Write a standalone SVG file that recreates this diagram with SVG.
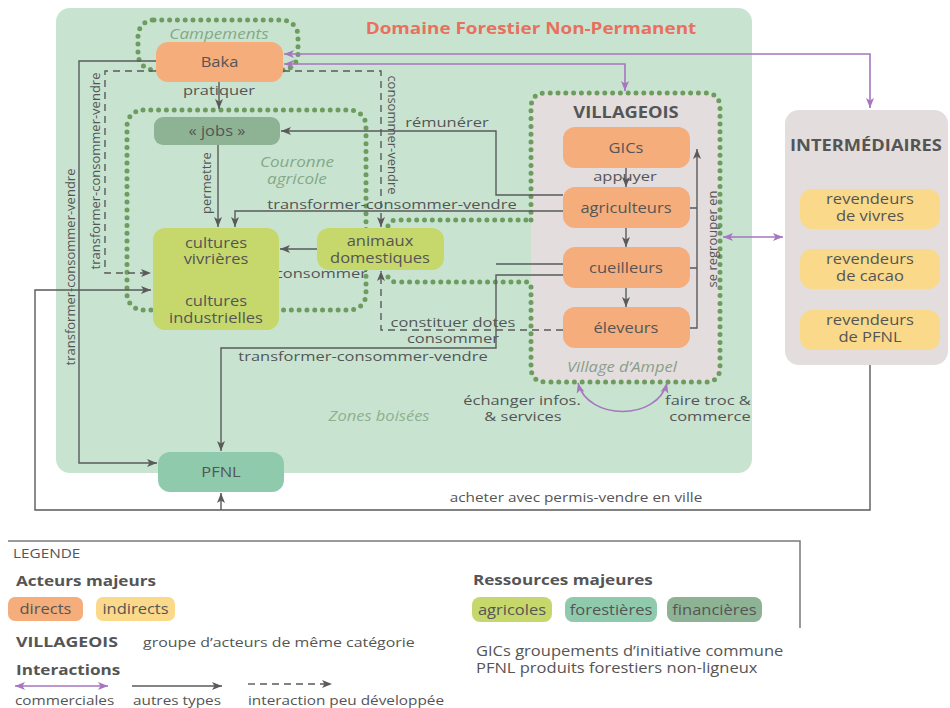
<svg xmlns="http://www.w3.org/2000/svg" width="950" height="708" viewBox="0 0 950 708">
<style>
.dot{fill:none;stroke:#6d9c5e;stroke-width:5;stroke-linecap:round;stroke-dasharray:0 7.8}
.ln{fill:none;stroke:#5a5a5a;stroke-width:1.4}
.ar{marker-end:url(#ah)}
.da{stroke-dasharray:7 5}
.pu{fill:none;stroke:#a676bf;stroke-width:1.6;marker-start:url(#ap);marker-end:url(#ap)}
.or{fill:#f5ad7c}.ye{fill:#fad98a}.ag{fill:#c6d86c}.fo{fill:#8fcaad}.fi{fill:#8db394}.gr{fill:#e3dddd}
text{font-family:"Open Sans","Liberation Sans",sans-serif;fill:#555555;font-size:14px}
.m{text-anchor:middle}
.s{transform-box:fill-box;transform-origin:center;transform:scaleX(1.18)}
.sl{transform-box:fill-box;transform-origin:left center;transform:scaleX(1.18)}
.q{font-size:13.5px;transform-box:fill-box;transform-origin:center;transform:scaleX(1.22)}
.b{font-weight:bold}
.it{font-style:italic;fill:#86a886}
.r{font-size:13px;text-anchor:middle;dominant-baseline:central}
</style>
<defs>
<marker id="ah" viewBox="0 0 10 10" refX="10" refY="5" markerWidth="10" markerHeight="10" markerUnits="userSpaceOnUse" orient="auto"><path d="M0,1 L10,5 L0,9 L2.5,5z" fill="#5a5a5a"/></marker>
<marker id="ap" viewBox="0 0 10 10" refX="10" refY="5" markerWidth="10" markerHeight="10" markerUnits="userSpaceOnUse" orient="auto-start-reverse"><path d="M0,1 L10,5 L0,9 L2.5,5z" fill="#a676bf"/></marker>
</defs>
<rect x="0" y="0" width="950" height="708" fill="#ffffff"/>
<g id="zones">
<rect x="56" y="8" width="696" height="465" rx="14" fill="#c8e4d1"/>
<text class="m b s" x="531" y="34" style="font-size:16px;fill:#e8705e">Domaine Forestier Non-Permanent</text>
<text class="m it s" x="379" y="421" style="fill:#8fb08f">Zones boisées</text>
</g>
<g id="village">
<rect x="531" y="93" width="189" height="289" rx="15" class="gr"/>
<path class="dot" d="M531,220 V108 Q531,93 546,93 H705 Q720,93 720,108 V367 Q720,382 705,382 H546 Q531,382 531,367 V282"/>
<path class="dot" d="M388,226 Q390,220 397,220 H531"/>
<path class="dot" d="M388,277 Q390,282 397,282 H531"/>
<text class="m b s" x="626" y="118" style="font-size:15.5px">VILLAGEOIS</text>
<text class="m it s" x="622" y="372" style="fill:#8a9d8a">Village d’Ampel</text>
</g>
<g id="couronne">
<rect x="127" y="110" width="239" height="200" rx="16" class="dot"/>
<text class="m it s" x="297" y="167" style="font-size:14.5px">Couronne</text>
<text class="m it s" x="297" y="184" style="font-size:14.5px">agricole</text>
</g>
<g id="campements">
<rect x="138" y="20" width="160" height="50" rx="16" class="dot"/>
<text class="m it s" x="219" y="39" style="font-size:14.5px">Campements</text>
</g>
<g id="intermediaires">
<rect x="785" y="110" width="163" height="255" rx="14" class="gr"/>
<text class="m b s" x="866" y="151" style="font-size:15.5px">INTERMÉDIAIRES</text>
</g>
<g id="connectors">
<path class="ln ar" d="M156,61 H79 V463 H157"/>
<path class="ln ar da" d="M156,71 H105 V273 H151"/>
<path class="ln ar da" d="M283,71 H381 V227"/>
<path class="ln ar" d="M219,82 V109"/>
<path class="ln ar" d="M218,145 V227"/>
<path class="ln ar" d="M563,211 H235 V227"/>
<path class="ln ar" d="M563,195 H496 V131 H281"/>
<path class="ln" d="M563,264 H496"/>
<path class="ln ar" d="M563,275 H496 V348 H221 V451"/>
<path class="ln ar da" d="M563,330 H381 V271"/>
<path class="ln ar" d="M317,249 H280"/>
<path class="ln ar" d="M626,168 V187"/>
<path class="ln ar" d="M626,228 V247"/>
<path class="ln ar" d="M626,288 V307"/>
<path class="ln" d="M690,208 H697 M690,268 H697"/>
<path class="ln ar" d="M690,328 H697 V149"/>
<path class="ln ar" d="M870,365 V510 H35 V290 H151"/>
<path class="ln ar" d="M221,510 V493"/>
<path class="pu" d="M284,54 H870 V108"/>
<path class="pu" d="M284,64 H625 V91"/>
<path class="pu" d="M723,237 H783"/>
<path class="pu" d="M578,383 C588,421 657,421 667,383"/>
<text class="r" transform="translate(70,267) rotate(-90)">transformer-consommer-vendre</text>
<text class="r" transform="translate(95,171) rotate(-90)">transformer-consommer-vendre</text>
<text class="r" transform="translate(206,183) rotate(-90)">permettre</text>
<text class="r" transform="translate(393,135) rotate(90)">consommer-vendre</text>
<text class="r" transform="translate(712,239) rotate(-90)">se regrouper en</text>
<text class="m q" x="219" y="95">pratiquer</text>
<text class="m q" x="447" y="127">rémunérer</text>
<text class="m q" x="392" y="209">transformer-consommer-vendre</text>
<text class="m q" x="625" y="181">appuyer</text>
<text class="m q" x="321" y="278">consommer</text>
<text class="m q" x="453" y="327">constituer dotes</text>
<text class="m q" x="453" y="343">consommer</text>
<text class="m q" x="363" y="361">transformer-consommer-vendre</text>
<text class="m q" x="522" y="405">échanger infos.</text>
<text class="m q" x="523" y="421">&amp; services</text>
<text class="m q" x="708" y="405">faire troc &amp;</text>
<text class="m q" x="710" y="421">commerce</text>
<text class="m s" x="576" y="502" style="font-size:13px">acheter avec permis-vendre en ville</text>
</g>
<g id="baka"><rect x="156" y="42" width="127" height="40" rx="12" class="or"/><text class="m s" x="219.5" y="67">Baka</text></g>
<g id="jobs"><rect x="154" y="117" width="126" height="28" rx="9" class="fi"/><text class="m s" x="217" y="136">« jobs »</text></g>
<g id="cultures"><rect x="153" y="228" width="126" height="102" rx="12" class="ag"/>
<text class="m s" x="216" y="248">cultures</text><text class="m s" x="216" y="264">vivrières</text>
<text class="m s" x="216" y="306">cultures</text><text class="m s" x="216" y="323">industrielles</text></g>
<g id="animaux"><rect x="317" y="228" width="127" height="42" rx="12" class="ag"/>
<text class="m s" x="380" y="246">animaux</text><text class="m s" x="380" y="263">domestiques</text></g>
<g id="pfnl"><rect x="158" y="452" width="126" height="40" rx="12" class="fo"/><text class="m s" x="221" y="477">PFNL</text></g>
<g id="gics"><rect x="563" y="127" width="127" height="41" rx="12" class="or"/><text class="m s" x="626" y="153">GICs</text></g>
<g id="agriculteurs"><rect x="563" y="187" width="127" height="41" rx="12" class="or"/><text class="m s" x="626" y="213">agriculteurs</text></g>
<g id="cueilleurs"><rect x="563" y="247" width="127" height="41" rx="12" class="or"/><text class="m s" x="626" y="273">cueilleurs</text></g>
<g id="eleveurs"><rect x="563" y="307" width="127" height="41" rx="12" class="or"/><text class="m s" x="626" y="333">éleveurs</text></g>
<g id="rev-vivres"><rect x="800" y="189" width="140" height="40" rx="12" class="ye"/>
<text class="m s" x="870" y="204">revendeurs</text><text class="m s" x="870" y="221">de vivres</text></g>
<g id="rev-cacao"><rect x="800" y="249" width="140" height="40" rx="12" class="ye"/>
<text class="m s" x="870" y="264">revendeurs</text><text class="m s" x="870" y="281">de cacao</text></g>
<g id="rev-pfnl"><rect x="800" y="310" width="140" height="40" rx="12" class="ye"/>
<text class="m s" x="870" y="325">revendeurs</text><text class="m s" x="870" y="342">de PFNL</text></g>
<g id="legende">
<path d="M8,541 H800 V628" fill="none" stroke="#7a7a7a" stroke-width="1.5"/>
<text class="sl" x="13" y="558" style="font-size:13px">LEGENDE</text>
<text class="sl b" x="16" y="586" style="font-size:14.5px">Acteurs majeurs</text>
<rect x="8" y="597" width="75" height="24" rx="7" class="or"/><text class="m s" x="45.5" y="614">directs</text>
<rect x="96" y="597" width="79" height="24" rx="7" class="ye"/><text class="m s" x="135.5" y="614">indirects</text>
<text class="sl b" x="16" y="647" style="font-size:15px">VILLAGEOIS</text>
<text class="sl" x="143" y="647" style="font-size:13.5px">groupe d’acteurs de même catégorie</text>
<text class="sl b" x="16" y="675" style="font-size:14.5px">Interactions</text>
<path class="pu" d="M15,686 H108"/>
<path class="ln ar" d="M132,686 H222"/>
<path class="ln ar da" d="M248,684 H332"/>
<text class="sl" x="15" y="705" style="font-size:13px">commerciales</text>
<text class="sl" x="133" y="705" style="font-size:13px">autres types</text>
<text class="sl" x="248" y="705" style="font-size:13px">interaction peu développée</text>
<text class="sl b" x="473" y="585" style="font-size:14.5px">Ressources majeures</text>
<rect x="472" y="597" width="80" height="25" rx="8" class="ag"/><text class="m s" x="512" y="615">agricoles</text>
<rect x="565" y="597" width="92" height="25" rx="8" class="fo"/><text class="m s" x="611" y="615">forestières</text>
<rect x="667" y="597" width="95" height="25" rx="8" class="fi"/><text class="m s" x="714.5" y="615">financières</text>
<text class="sl" x="476" y="656" style="font-size:14px">GICs  groupements d’initiative commune</text>
<text class="sl" x="476" y="673" style="font-size:14px">PFNL  produits forestiers non-ligneux</text>
</g>
</svg>
